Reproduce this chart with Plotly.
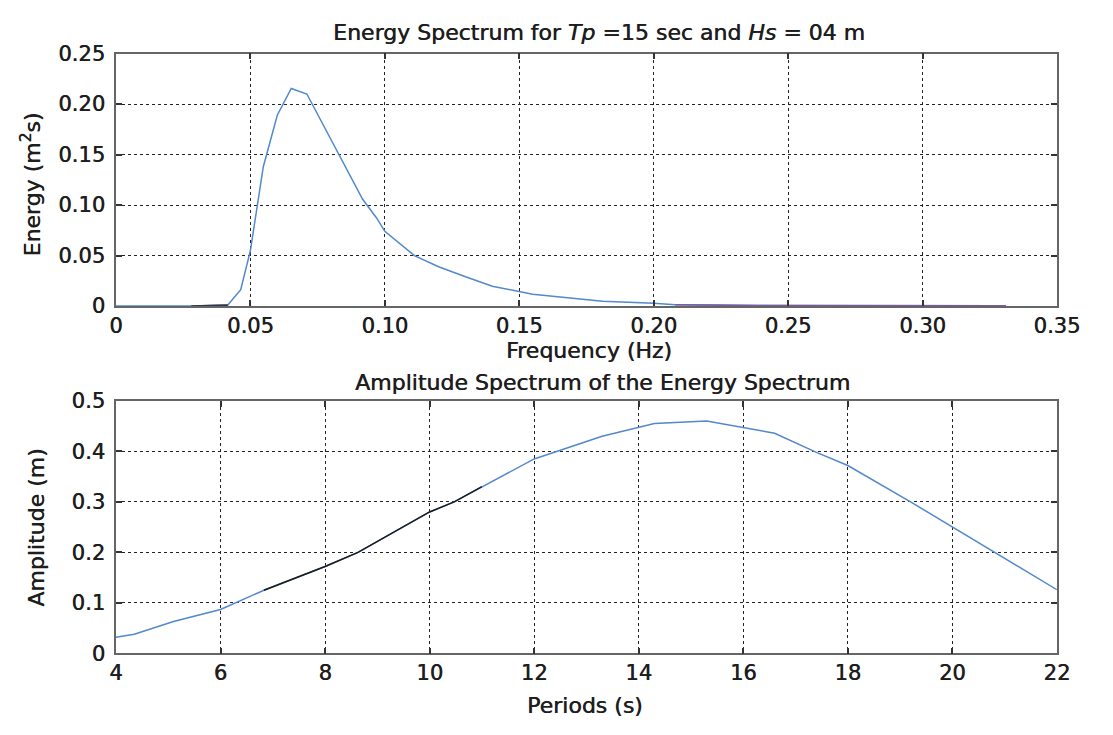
import plotly.graph_objects as go

# Energy spectrum (upper panel)
freq = [0.0, 0.028, 0.0416, 0.0464, 0.050, 0.0526, 0.0548, 0.060, 0.0652, 0.071,
        0.080, 0.0917, 0.097, 0.100, 0.111, 0.120, 0.130, 0.140, 0.155, 0.168,
        0.181, 0.200, 0.208, 0.239, 0.331]
energy = [0.0, 0.0, 0.001, 0.0163, 0.055, 0.0996, 0.138, 0.189, 0.2155, 0.210,
          0.165, 0.106, 0.087, 0.074, 0.050, 0.039, 0.029, 0.0197, 0.0116, 0.008,
          0.0047, 0.0028, 0.0012, 0.0006, 0.0003]

# Amplitude spectrum against wave period (lower panel)
period = [4.0, 4.35, 5.1, 6.0, 6.83, 8.0, 8.63, 10.0, 10.47, 11.0, 12.0, 13.3,
          14.0, 14.3, 15.3, 16.0, 16.6, 17.4, 18.0, 19.2, 20.0, 20.8, 22.0]
amplitude = [0.032, 0.038, 0.063, 0.087, 0.125, 0.172, 0.200, 0.280, 0.300, 0.330,
             0.385, 0.430, 0.448, 0.455, 0.460, 0.447, 0.436, 0.398, 0.372, 0.300,
             0.250, 0.200, 0.126]

freq_ticks = [0, 0.05, 0.10, 0.15, 0.20, 0.25, 0.30, 0.35]
freq_labels = ["0", "0.05", "0.10", "0.15", "0.20", "0.25", "0.30", "0.35"]
energy_ticks = [0, 0.05, 0.10, 0.15, 0.20, 0.25]
energy_labels = ["0", "0.05", "0.10", "0.15", "0.20", "0.25"]
period_ticks = [4, 6, 8, 10, 12, 14, 16, 18, 20, 22]
amp_ticks = [0, 0.1, 0.2, 0.3, 0.4, 0.5]
amp_labels = ["0", "0.1", "0.2", "0.3", "0.4", "0.5"]

BLUE = "#5288cc"
FONT = "DejaVu Sans"
TXT = "#1e1e1e"
THICK = "0.5px 0px 0px #1e1e1e"

fig = go.Figure()

fig.add_trace(go.Scatter(x=freq, y=energy, mode="lines",
                         line=dict(color=BLUE, width=1.5),
                         xaxis="x", yaxis="y", showlegend=False))
# darker overlapping pieces of the curve near zero energy
fig.add_trace(go.Scatter(x=freq[1:3], y=energy[1:3], mode="lines",
                         line=dict(color="#333344", width=1.8),
                         xaxis="x", yaxis="y", showlegend=False))
fig.add_trace(go.Scatter(x=freq[22:], y=energy[22:], mode="lines",
                         line=dict(color="#7a5a9a", width=1.5),
                         xaxis="x", yaxis="y", showlegend=False))

fig.add_trace(go.Scatter(x=period, y=amplitude, mode="lines",
                         line=dict(color=BLUE, width=1.5),
                         xaxis="x2", yaxis="y2", showlegend=False))
fig.add_trace(go.Scatter(x=period[4:10], y=amplitude[4:10], mode="lines",
                         line=dict(color="#1a1a1a", width=1.5),
                         xaxis="x2", yaxis="y2", showlegend=False))

W, H = 1113, 735
xdom = [112 / W, 1079 / W]
ydom_top = [1 - 304 / H, 1 - 43 / H]
ydom_bot = [1 - 663 / H, 1 - 402 / H]

tickfont = dict(family=FONT, size=21, color=TXT, shadow=THICK)
common = dict(showline=True, linecolor="#666666", linewidth=1.5, mirror="ticks",
              ticks="inside", ticklen=6, tickcolor="#333333", tickwidth=1.5,
              showgrid=True, gridcolor="#222222", gridwidth=1.3,
              griddash="3px,3px", zeroline=False, tickfont=tickfont)

fig.update_layout(
    width=W, height=H,
    margin=dict(l=0, r=0, t=0, b=0),
    paper_bgcolor="white", plot_bgcolor="white",
    xaxis=dict(domain=xdom, range=[0, 0.35], tickvals=freq_ticks,
               ticktext=freq_labels, anchor="y", ticklabelstandoff=0, **common),
    yaxis=dict(domain=ydom_top, range=[0, 0.25], tickvals=energy_ticks,
               ticktext=energy_labels, anchor="x", ticklabelstandoff=5, **common),
    xaxis2=dict(domain=xdom, range=[4, 22], tickvals=period_ticks,
                anchor="y2", ticklabelstandoff=0, **common),
    yaxis2=dict(domain=ydom_bot, range=[0, 0.5], tickvals=amp_ticks,
                ticktext=amp_labels, anchor="x2", ticklabelstandoff=5, **common),
)

def label(text, x, y, size=22, angle=0):
    fig.add_annotation(text=text, x=x / W, y=1 - y / H, xref="paper", yref="paper",
                       showarrow=False, textangle=angle,
                       font=dict(family=FONT, size=size, color=TXT, shadow=THICK),
                       xanchor="center", yanchor="middle")

label("Energy Spectrum for <i>Tp</i> =15 sec and <i>Hs</i> = 04 m", 608, 21)
label("Frequency (Hz)", 598, 350)
label("Energy (m<sup>2</sup>s)", 25, 178, angle=-90)
label("Amplitude Spectrum of the Energy Spectrum", 612, 383)
label("Periods (s)", 594, 717)
label("Amplitude (m)", 30, 533, angle=-90)

fig.write_html("out.html", post_script="document.body.style.margin='0';")
